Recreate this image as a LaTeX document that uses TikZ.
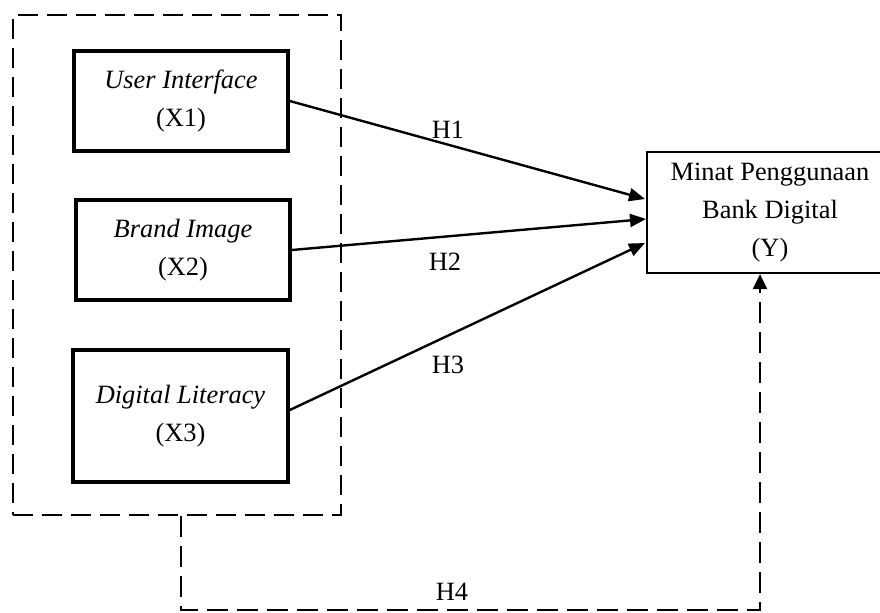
\documentclass[tikz,border=0pt]{standalone}
\usepackage{fontspec}
\setmainfont{Liberation Serif}
\usetikzlibrary{arrows.meta,calc}

\begin{document}
\begin{tikzpicture}[x=0.5pt,y=-0.5pt,
  font=\fontsize{13.2}{19}\selectfont,
  varbox/.style={draw, line width=1.8pt, align=center, inner sep=0pt},
  depbox/.style={draw, line width=1.1pt, align=center, inner sep=0pt},
  groupbox/.style={draw, line width=1.2pt, dash pattern=on 10pt off 4.5pt},
  path1/.style={line width=1.2pt, -{Triangle[length=8pt,width=6.5pt]}},
  path4/.style={line width=1.2pt, dash pattern=on 10.5pt off 4.5pt,
                -{Triangle[length=7.5pt,width=7pt]}},
  hlabel/.style={inner sep=0pt}
]
\useasboundingbox (0,0) rectangle (880,612);

% independent variables inside a dashed group
\node[groupbox, minimum width=164pt, minimum height=250pt] (grp) at (177,265) {};
\node[varbox, minimum width=107pt, minimum height=50pt] (X1) at (181,101)
  {\textit{User Interface}\\(X1)};
\node[varbox, minimum width=107pt, minimum height=50pt] (X2) at (183,250)
  {\textit{Brand Image}\\(X2)};
\node[varbox, minimum width=107.5pt, minimum height=66pt] (X3) at (180.5,416)
  {\textit{Digital Literacy}\\(X3)};

% dependent variable
\node[depbox, minimum width=123pt, minimum height=60.5pt] (Y) at (770,212.5)
  {Minat Penggunaan\\Bank Digital\\(Y)};

% arrow end points on the left side of Y
\coordinate (t1) at (645,199);
\coordinate (t2) at (646,219);
\coordinate (t3) at (645,243);
\coordinate (s3) at ($(X3.east)+(0,-6)$);

\draw[path1] (X1.east) -- (t1);
\draw[path1] (X2.east) -- (t2);
\draw[path1] (s3) -- (t3);

\node[hlabel] (h1) at (448,130) {H1};
\node[hlabel] (h2) at (445,262) {H2};
\node[hlabel] (h3) at (448,365) {H3};

% simultaneous effect H4
\coordinate (c4) at (181,610);
\coordinate (ys) at ($(Y.south)+(-10,0)$);
\draw[path4] (grp.south -| c4) -- (c4) -| (ys);
\node[hlabel] (h4) at (452,592) {H4};
\end{tikzpicture}
\end{document}
